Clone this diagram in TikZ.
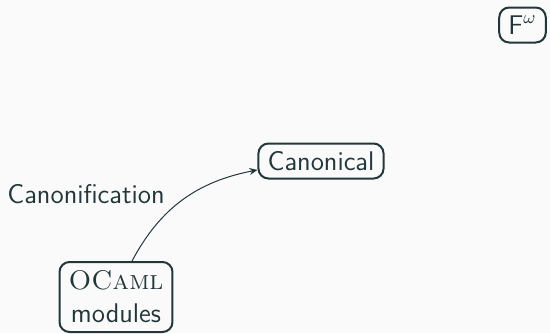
\documentclass[tikz,border=0pt]{standalone}
\usetikzlibrary{arrows.meta}
\renewcommand{\familydefault}{\sfdefault}
\definecolor{slate}{HTML}{23373B}
\definecolor{paper}{HTML}{FAFAFA}
\begin{document}
\begin{tikzpicture}[x=0.5pt,y=-0.5pt,
  every node/.style={text=slate,font=\fontsize{13.5}{16.5}\selectfont},
  box/.style={draw=slate,line width=1pt,rounded corners=5pt,inner xsep=4.6pt,inner ysep=2pt,minimum height=17.5pt},
  conn/.style={draw=slate,line width=0.5pt,-{Stealth[length=4pt,width=3.5pt]}}]
  \fill[paper] (0,0) rectangle (550,333);
  \useasboundingbox (0,0) rectangle (550,333);
  \node[box] (fomega) at (522.5,25) {F$^\omega$};
  \node[box] (canon) at (321,161) {Canonical};
  \node[box,align=center,minimum width=55pt,minimum height=35pt] (ocaml) at (116,297)
    {\textrm{\textsc{OCaml}}\\modules};
  \node (lbl) at (86,194) {Canonification};
  \draw[conn] (ocaml.66) to[out=62,in=191] (canon.188);
\end{tikzpicture}
\end{document}
